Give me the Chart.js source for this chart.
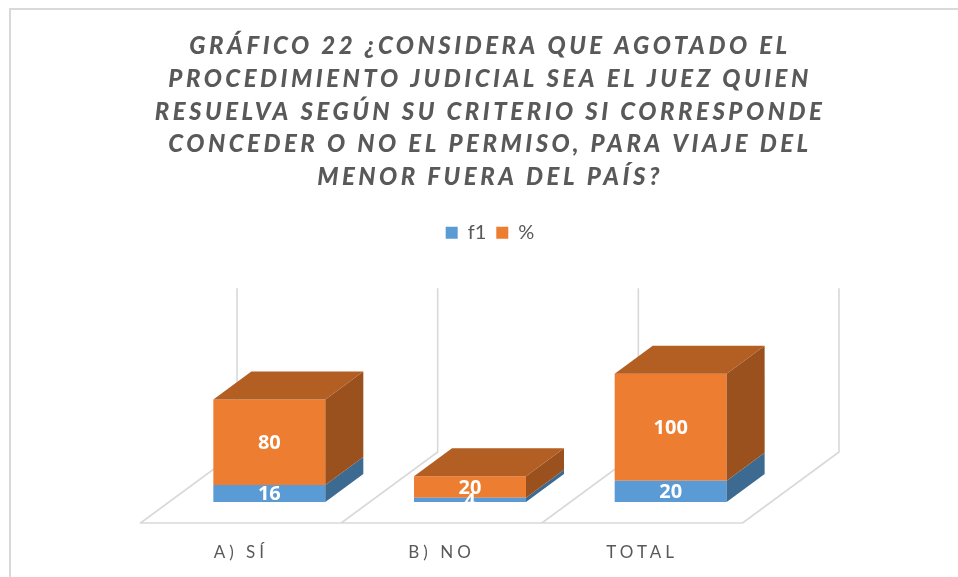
<!DOCTYPE html>
<html><head><meta charset="utf-8">
<script src="https://cdn.jsdelivr.net/npm/chart.js@4/dist/chart.umd.min.js"></script>
<style>html,body{margin:0;padding:0;background:#fff;overflow:hidden;}</style>
</head><body>
<canvas id="c" width="958" height="577"></canvas>
<script>
const titleLines = [
  'GRÁFICO 22 ¿CONSIDERA QUE AGOTADO EL',
  'PROCEDIMIENTO JUDICIAL SEA EL JUEZ QUIEN',
  'RESUELVA SEGÚN SU CRITERIO SI CORRESPONDE',
  'CONCEDER O NO EL PERMISO, PARA VIAJE DEL',
  'MENOR FUERA DEL PAÍS?'
];
const categories = ['A) SÍ', 'B) NO', 'TOTAL'];
const seriesNames = ['f1', '%'];
const f1Values = [16, 4, 20];
const pctValues = [80, 20, 100];
const axisMax = 150;

// 3D look (pixel offsets)
const DX = 38, DY = -28;               // bar depth
const FRONT_DX = -28.5, FRONT_DY = 21; // floor front edge relative to bar front plane
const BACK_DX = 68, BACK_DY = -50;     // floor back edge relative to bar front plane
const WALL_EXTRA = 3;
const sideColors = ['#3c6a91', '#9b511e'];
const topColor = '#b35e22';
const lineColor = '#d9d9d9';

function withSpacing(obj, method, sp) {
  if (!obj || obj['__ls_' + method]) return;
  const orig = obj[method];
  obj[method] = function (...a) {
    const c = this.ctx; const prev = c.letterSpacing;
    c.letterSpacing = sp;
    try { return orig.apply(this, a); } finally { c.letterSpacing = prev; }
  };
  obj['__ls_' + method] = true;
}

const box3d = {
  id: 'box3d',
  beforeDraw(chart) {
    withSpacing(chart.titleBlock, 'draw', '3.5px');
    withSpacing(chart.scales.x, 'drawLabels', '4px');
    const ctx = chart.ctx;
    ctx.save();
    ctx.strokeStyle = lineColor; ctx.lineWidth = 2;
    ctx.strokeRect(10, 9, chart.width + 50, chart.height + 50);
    ctx.restore();
  },
  beforeDatasetsDraw(chart) {
    const ctx = chart.ctx, xs = chart.scales.x, ys = chart.scales.y;
    const n = categories.length;
    const half = (xs.getPixelForValue(1) - xs.getPixelForValue(0)) / 2;
    const bounds = [];
    for (let i = 0; i < n; i++) bounds.push(xs.getPixelForValue(i) - half);
    bounds.push(xs.getPixelForValue(n - 1) + half);
    const base = ys.getPixelForValue(0);
    const topY = ys.getPixelForValue(axisMax) + BACK_DY - WALL_EXTRA;
    ctx.save();
    ctx.strokeStyle = lineColor; ctx.lineWidth = 1.6; ctx.lineCap = 'round';
    ctx.beginPath();
    ctx.moveTo(bounds[0] + FRONT_DX, base + FRONT_DY);
    ctx.lineTo(bounds[n] + FRONT_DX, base + FRONT_DY);
    bounds.forEach(b => {
      ctx.moveTo(b + FRONT_DX, base + FRONT_DY);
      ctx.lineTo(b + BACK_DX, base + BACK_DY);
      ctx.lineTo(b + BACK_DX, topY);
    });
    ctx.stroke();
    ctx.restore();
  },
  afterDatasetsDraw(chart) {
    const ctx = chart.ctx, ca = chart.chartArea;
    const last = chart.data.datasets.length - 1;
    ctx.save();
    chart.data.datasets.forEach((ds, di) => {
      const meta = chart.getDatasetMeta(di);
      meta.data.forEach((el) => {
        const p = el.getProps(['x', 'y', 'base', 'width'], true);
        const l = p.x - p.width / 2, r = p.x + p.width / 2;
        const t = Math.min(p.y, p.base), b = Math.max(p.y, p.base);
        ctx.fillStyle = sideColors[di];
        ctx.beginPath();
        ctx.moveTo(r, t); ctx.lineTo(r + DX, t + DY); ctx.lineTo(r + DX, b + DY); ctx.lineTo(r, b);
        ctx.closePath(); ctx.fill();
        if (di === last) {
          ctx.fillStyle = topColor;
          ctx.beginPath();
          ctx.moveTo(l, t); ctx.lineTo(l + DX, t + DY); ctx.lineTo(r + DX, t + DY); ctx.lineTo(r, t);
          ctx.closePath(); ctx.fill();
        }
      });
    });
    // value labels
    ctx.beginPath(); ctx.rect(0, 0, chart.width, ca.bottom); ctx.clip();
    ctx.fillStyle = '#ffffff';
    ctx.font = 'bold 20px "Open Sans"';
    ctx.textAlign = 'center'; ctx.textBaseline = 'middle';
    chart.data.datasets.forEach((ds, di) => {
      const meta = chart.getDatasetMeta(di);
      meta.data.forEach((el, i) => {
        const v = ds.data[i];
        if (!v) return;
        const p = el.getProps(['x', 'y', 'base'], true);
        ctx.fillText(String(v), p.x, (p.y + p.base) / 2 + 1);
      });
    });
    ctx.restore();
  }
};

new Chart(document.getElementById('c'), {
  type: 'bar',
  data: {
    labels: categories,
    datasets: [
      { label: seriesNames[0], data: f1Values, backgroundColor: '#5b9bd5', borderWidth: 0 },
      { label: seriesNames[1], data: pctValues, backgroundColor: '#ed7d31', borderWidth: 0 }
    ]
  },
  options: {
    responsive: false,
    animation: false,
    devicePixelRatio: 1,
    datasets: { bar: { categoryPercentage: 1, barPercentage: 0.558 } },
    layout: { padding: { top: 20, left: 22, right: 0, bottom: 5 } },
    plugins: {
      title: {
        display: true, text: titleLines, color: '#595959',
        font: { family: 'Lato', size: 24, weight: '900', style: 'italic', lineHeight: 1.365 },
        padding: { top: 10, bottom: 19 }
      },
      legend: {
        display: true, position: 'top',
        labels: { boxWidth: 12, boxHeight: 12, padding: 10, color: '#595959', font: { family: 'Lato', size: 20 } }
      },
      tooltip: { enabled: false }
    },
    scales: {
      x: {
        type: 'category', stacked: true, position: 'bottom',
        grid: { display: false }, border: { display: false },
        ticks: { color: '#595959', font: { family: 'Lato', size: 17 }, padding: 32, labelOffset: FRONT_DX, maxRotation: 0, autoSkip: false },
        afterFit: s => { s.height = 70; }
      },
      xTop: {
        type: 'category', position: 'top', display: true,
        grid: { display: false }, border: { display: false }, ticks: { display: false },
        afterFit: s => { s.height = 89; }
      },
      y: {
        stacked: true, min: 0, max: axisMax, position: 'left', display: true,
        grid: { display: false }, border: { display: false }, ticks: { display: false },
        afterFit: s => { s.width = 147; }
      },
      yR: {
        type: 'linear', position: 'right', display: true,
        grid: { display: false }, border: { display: false }, ticks: { display: false },
        afterFit: s => { s.width = 187; }
      }
    }
  },
  plugins: [box3d]
});
</script>
</body></html>
